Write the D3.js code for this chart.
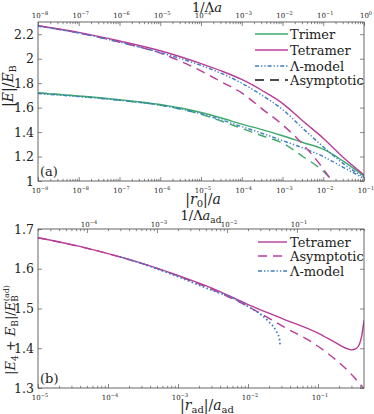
<!DOCTYPE html>
<html><head><meta charset="utf-8">
<script src="https://cdn.jsdelivr.net/npm/d3@7"></script>
<style>
body{margin:0;background:#fff}
svg{display:block}
</style>
</head><body>
<svg id="c" width="374" height="414"></svg>
<script>
// ---------- DATA (panel a) ----------
const rA = [1e-9,1e-8,1e-7,1e-6,1e-5,3.16e-5,1e-4,3.16e-4,1e-3,3.16e-3,1e-2,3.16e-2,1e-1];
const trimerA    = [1.72,1.695,1.665,1.625,1.56,1.515,1.465,1.42,1.37,1.315,1.26,1.16,1.04];
const trimerLamA = [1.715,1.69,1.66,1.62,1.55,1.50,1.445,1.39,1.33,1.27,1.20,1.11,1.02];
const tetraA     = [2.27,2.215,2.145,2.065,1.96,1.90,1.83,1.74,1.635,1.49,1.35,1.19,1.05];
const tetraLamA  = [2.265,2.21,2.135,2.05,1.945,1.88,1.80,1.70,1.585,1.43,1.28,1.14,1.03];
const rAsymA = [1e-9,1e-8,1e-7,1e-6,1e-5,3.16e-5,1e-4,3.16e-4,1e-3,3.16e-3,1e-2,1.7e-2];
const trimerAsymA = [1.72,1.695,1.66,1.62,1.545,1.49,1.43,1.37,1.31,1.20,1.08,1.0];
const tetraAsymA  = [2.27,2.21,2.135,2.045,1.90,1.81,1.72,1.59,1.46,1.30,1.10,0.99];
const legendA = ["Trimer","Tetramer","Λ-model","Asymptotic"];

// ---------- DATA (panel b) ----------
const rB = [1e-5,3.16e-5,1e-4,3.16e-4,1e-3,3.16e-3,1e-2,3.16e-2,0.1,0.178,0.25,0.30,0.35,0.39,0.42,0.454];
const tetraB = [1.678,1.66,1.638,1.613,1.583,1.55,1.51,1.474,1.438,1.414,1.400,1.396,1.399,1.41,1.43,1.47];
const rAsymB = [1e-5,1e-4,1e-3,3.16e-3,1e-2,3.16e-2,0.1,0.316,0.454];
const tetraAsymB = [1.678,1.638,1.582,1.547,1.505,1.455,1.405,1.33,1.298];
const rLamB = [1.48e-4,3.16e-4,1e-3,3.16e-3,6.3e-3,1e-2,1.58e-2,2e-2,2.5e-2,2.8e-2,2.88e-2];
const lamB  = [1.63,1.612,1.580,1.545,1.525,1.505,1.483,1.466,1.445,1.425,1.408];
const legendB = ["Tetramer","Asymptotic","Λ-model"];

const yTicksA = [1,1.2,1.4,1.6,1.8,2,2.2];
const yTicksB = [1.3,1.4,1.5,1.6,1.7];

// ---------- STYLE ----------
const FONT = "DejaVu Serif, serif";
const GREEN="#3daa6c", MAG="#b83c98", BLUE="#3d7dc2", FRAME="#555";
const DASH="9,6", DASHDOT="4,2,1.3,2,1.3,2";

const svg = d3.select("#c").attr("font-family",FONT);
const L=38, R=364;
const A={top:22,bottom:181}, B={top:229,bottom:388};

const xA = d3.scaleLog().domain([1e-9,1e-1]).range([L,R]);
const xAtop = d3.scaleLog().domain([1e-8,1]).range([L,R]);
const yA = d3.scaleLinear().domain([1,2.3]).range([A.bottom,A.top]);
const xB = d3.scaleLog().domain([1e-5,0.454]).range([L,R]);
const xBtop = d3.scaleLog().domain([2e-5,0.908]).range([L,R]);
const yB = d3.scaleLinear().domain([1.3,1.7]).range([B.bottom,B.top]);

const isPow = v => Math.abs(Math.log10(v)-Math.round(Math.log10(v)))<1e-6;

function logAxis(scale, yPos, orient, labelY){
  const ax = (orient==="bottom"?d3.axisBottom(scale):d3.axisTop(scale))
     .tickSizeInner(-4).tickSizeOuter(0).tickFormat(()=>"");
  const g = svg.append("g").attr("transform",`translate(0,${yPos})`).call(ax);
  g.select(".domain").remove();
  g.selectAll(".tick line").attr("stroke",FRAME).attr("stroke-width",0.7)
    .attr("y2",d=> (orient==="bottom"?-1:1)*(isPow(d)?4:2.2));
  scale.ticks().filter(isPow).forEach(v=>{
    const e=Math.round(Math.log10(v));
    const t=svg.append("text").attr("x",scale(v)+2).attr("y",labelY)
      .attr("text-anchor","middle").style("font-size","7px");
    t.append("tspan").text("10");
    t.append("tspan").attr("dy",-3).style("font-size","5px").text(e<0?"−"+(-e):String(e));
  });
}
function yAxis(scale, ticks, fmt){
  const g=svg.append("g").attr("transform",`translate(${L},0)`)
    .call(d3.axisLeft(scale).tickValues(ticks).tickSizeInner(-4).tickSizeOuter(0).tickPadding(4).tickFormat(fmt));
  g.select(".domain").remove();
  g.selectAll(".tick line").attr("stroke",FRAME).attr("stroke-width",0.7);
  g.selectAll(".tick text").style("font-size","12.5px");
  const g2=svg.append("g").attr("transform",`translate(${R},0)`)
    .call(d3.axisRight(scale).tickValues(ticks).tickSizeInner(-4).tickSizeOuter(0).tickFormat(()=>""));
  g2.select(".domain").remove();
  g2.selectAll(".tick line").attr("stroke",FRAME).attr("stroke-width",0.7);
}

function panel(P, id){
  svg.append("clipPath").attr("id",id).append("rect")
    .attr("x",L).attr("y",P.top).attr("width",R-L).attr("height",P.bottom-P.top);
}
panel(A,"clipA"); panel(B,"clipB");

function curve(xs, ys, xsc, ysc, color, dash, clip, w){
  const pts = xs.map((x,i)=>[x,ys[i]]);
  svg.append("path").attr("clip-path",`url(#${clip})`)
    .attr("d", d3.line().x(d=>xsc(d[0])).y(d=>ysc(d[1])).curve(d3.curveMonotoneX)(pts))
    .attr("fill","none").attr("stroke",color).attr("stroke-width",w||1.4)
    .attr("stroke-dasharray",dash||null);
}

// ---------- Panel a ----------
yAxis(yA, yTicksA, d=>String(+d.toFixed(1)));
logAxis(xA, A.bottom, "bottom", 193);
logAxis(xAtop, A.top, "top", 18);

curve(rA, trimerA, xA, yA, GREEN, null, "clipA");
curve(rAsymA, trimerAsymA, xA, yA, GREEN, DASH, "clipA");
curve(rA, trimerLamA, xA, yA, BLUE, DASHDOT, "clipA");
curve(rA, tetraA, xA, yA, MAG, null, "clipA");
curve(rAsymA, tetraAsymA, xA, yA, MAG, DASH, "clipA");
curve(rA, tetraLamA, xA, yA, BLUE, DASHDOT, "clipA");

svg.append("rect").attr("x",L).attr("y",A.top).attr("width",R-L).attr("height",A.bottom-A.top)
  .attr("fill","none").attr("stroke",FRAME).attr("stroke-width",0.9);

const legStyleA=[[GREEN,null],[MAG,null],[BLUE,DASHDOT],["#111",DASH]];
const legYA=[34,50,66,80];
legendA.forEach((t,i)=>{
  svg.append("line").attr("x1",255).attr("x2",288).attr("y1",legYA[i]).attr("y2",legYA[i])
    .attr("stroke",legStyleA[i][0]).attr("stroke-width",1.4).attr("stroke-dasharray",legStyleA[i][1]);
  svg.append("text").attr("x",290).attr("y",legYA[i]+5).style("font-size","13px").text(t);
});
svg.append("text").attr("x",40).attr("y",176).style("font-size","13px").text("(a)");

{
  const t=svg.append("text").attr("x",207).attr("y",12).attr("text-anchor","middle").style("font-size","13px");
  t.append("tspan").text("1/Λ"); t.append("tspan").style("font-style","italic").text("a");
  const b=svg.append("text").attr("x",203).attr("y",204).attr("text-anchor","middle").style("font-size","14px");
  b.append("tspan").text("|"); b.append("tspan").style("font-style","italic").text("r");
  b.append("tspan").attr("dy",3).style("font-size","10px").text("0");
  b.append("tspan").attr("dy",-3).text("|/"); b.append("tspan").style("font-style","italic").text("a");
  const y=svg.append("text").attr("transform","translate(13,86) rotate(-90)").attr("text-anchor","middle").style("font-size","14px");
  y.append("tspan").text("|"); y.append("tspan").style("font-style","italic").text("E");
  y.append("tspan").text("|/"); y.append("tspan").style("font-style","italic").text("E");
  y.append("tspan").attr("dy",3).style("font-size","10px").text("B");
}

// ---------- Panel b ----------
yAxis(yB, yTicksB, d=>d.toFixed(1));
logAxis(xB, B.bottom, "bottom", 400);
logAxis(xBtop, B.top, "top", 227);

curve(rB, tetraB, xB, yB, MAG, null, "clipB");
curve(rAsymB, tetraAsymB, xB, yB, MAG, DASH, "clipB");
curve(rLamB, lamB, xB, yB, BLUE, "1.6,2.4", "clipB", 1.8);

svg.append("rect").attr("x",L).attr("y",B.top).attr("width",R-L).attr("height",B.bottom-B.top)
  .attr("fill","none").attr("stroke",FRAME).attr("stroke-width",0.9);

const legStyleB=[[MAG,null],[MAG,DASH],[BLUE,DASHDOT]];
const legYB=[242,256,271];
legendB.forEach((t,i)=>{
  svg.append("line").attr("x1",258).attr("x2",287).attr("y1",legYB[i]).attr("y2",legYB[i])
    .attr("stroke",legStyleB[i][0]).attr("stroke-width",1.4).attr("stroke-dasharray",legStyleB[i][1]);
  svg.append("text").attr("x",290).attr("y",legYB[i]+5).style("font-size","13px").text(t);
});
svg.append("text").attr("x",40).attr("y",383).style("font-size","13px").text("(b)");

{
  const t=svg.append("text").attr("x",201).attr("y",220).attr("text-anchor","middle").style("font-size","13px");
  t.append("tspan").text("1/Λ"); t.append("tspan").style("font-style","italic").text("a");
  t.append("tspan").attr("dy",3).style("font-size","9px").text("ad");
  const b=svg.append("text").attr("x",207).attr("y",410).attr("text-anchor","middle").style("font-size","14px");
  b.append("tspan").text("|"); b.append("tspan").style("font-style","italic").text("r");
  b.append("tspan").attr("dy",3).style("font-size","10px").text("ad");
  b.append("tspan").attr("dy",-3).text("|/"); b.append("tspan").style("font-style","italic").text("a");
  b.append("tspan").attr("dy",3).style("font-size","10px").text("ad");
  const y=svg.append("text").attr("transform","translate(15,330) rotate(-90)").attr("text-anchor","middle").style("font-size","13px");
  y.append("tspan").text("|"); y.append("tspan").style("font-style","italic").text("E");
  y.append("tspan").attr("dy",3).style("font-size","9px").text("4");
  y.append("tspan").attr("dy",-3).text(" + "); y.append("tspan").style("font-style","italic").text("E");
  y.append("tspan").attr("dy",3).style("font-size","9px").text("B");
  y.append("tspan").attr("dy",-3).text("|/"); y.append("tspan").style("font-style","italic").text("E");
  y.append("tspan").attr("dy",3).style("font-size","9px").text("B");
  y.append("tspan").attr("dx",-6).attr("dy",-9).style("font-size","8px").text("(ad)");
}

svg.selectAll("text").style("font-family",FONT).style("fill","#222");
</script>
</body></html>
